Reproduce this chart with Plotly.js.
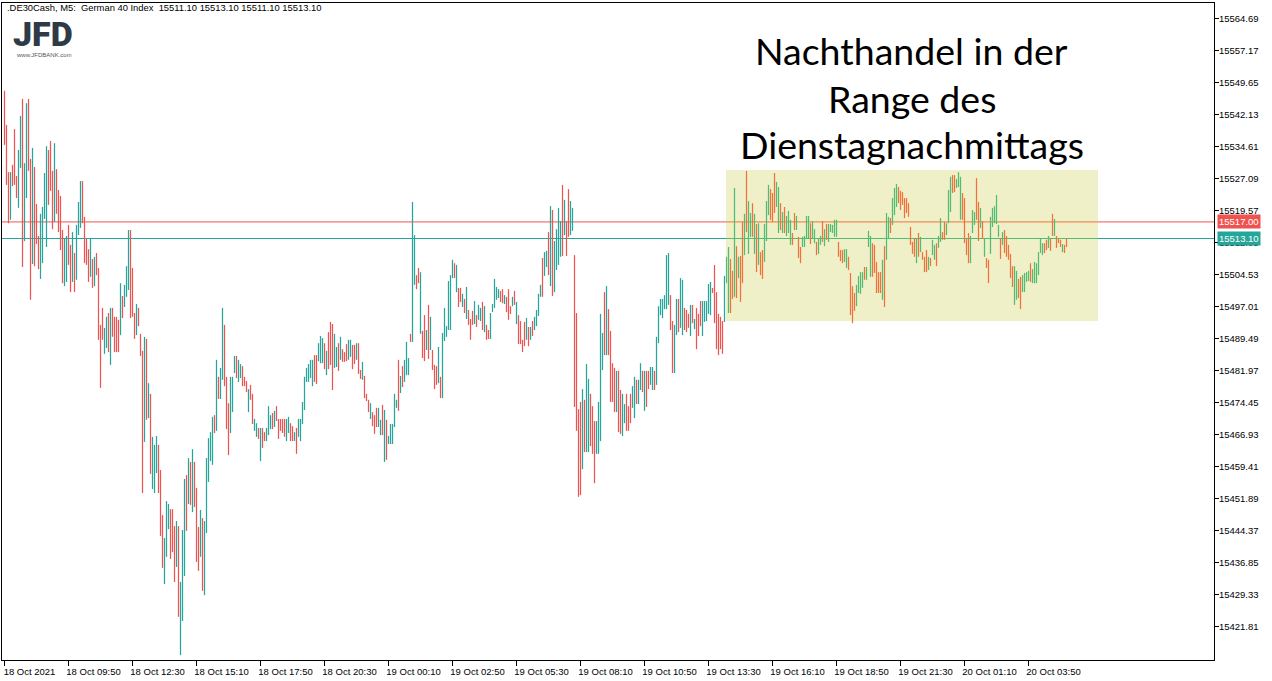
<!DOCTYPE html>
<html>
<head>
<meta charset="utf-8">
<script src="https://cdn.plot.ly/plotly-3.0.1.min.js"></script>
<style>
  html, body { margin: 0; padding: 0; background: #ffffff; }
  #chart { width: 1272px; height: 681px; }
</style>
</head>
<body>
<div id="chart"></div>
<script>
// ---- data: 5-minute bars of German 40 Index ----
const high = [
15547.8,15539.8,15528.7,15528.7,15530.4,15538.8,15527.8,15533.9,15541.9,15545.9,
15530.8,15544.9,15545.9,15531.8,15534.4,15529.9,15521.2,15513.7,15518.9,15520.5,
15528.5,15534.8,15533.9,15536.0,15529.0,15535.5,15529.4,15524.5,15523.1,15515.1,
15513.0,15513.7,15516.3,15511.6,15514.6,15509.7,15516.3,15521.7,15526.6,15526.6,
15518.2,15513.0,15510.6,15513.2,15508.3,15508.8,15509.7,15506.2,15492.8,15496.8,
15492.1,15494.7,15495.6,15496.8,15496.8,15494.7,15494.7,15494.0,15502.6,15499.6,
15502.2,15506.6,15515.1,15515.1,15506.2,15495.6,15497.7,15496.8,15490.7,15486.7,
15490.0,15489.5,15479.1,15476.6,15466.5,15464.6,15466.7,15464.6,15458.7,15448.1,
15442.7,15451.4,15450.7,15449.5,15449.5,15445.5,15446.7,15445.5,15432.4,15444.6,
15456.6,15457.5,15461.5,15460.6,15463.6,15460.6,15454.5,15445.3,15449.3,15447.4,
15446.7,15461.5,15466.2,15467.6,15471.2,15471.6,15484.6,15480.6,15482.7,15496.8,
15492.8,15480.6,15474.4,15480.6,15480.6,15485.5,15485.5,15484.6,15483.6,15483.1,
15480.6,15479.6,15477.7,15478.7,15476.6,15470.7,15469.7,15468.6,15468.6,15468.6,
15467.6,15468.6,15473.7,15471.6,15472.1,15472.6,15473.7,15470.7,15470.7,15470.7,
15470.7,15470.7,15471.2,15469.7,15469.0,15467.6,15468.6,15470.7,15470.7,15474.7,
15480.6,15482.7,15483.6,15484.6,15484.6,15485.7,15485.7,15488.5,15490.2,15489.7,
15488.5,15486.7,15491.1,15493.5,15493.0,15490.7,15487.6,15488.5,15490.0,15487.1,
15486.4,15488.3,15489.3,15489.3,15488.1,15488.1,15488.5,15488.5,15482.2,15484.1,
15480.8,15476.6,15475.2,15474.4,15472.3,15471.6,15473.3,15473.3,15470.5,15474.0,
15472.8,15470.5,15466.7,15469.5,15469.5,15476.6,15475.2,15484.6,15480.8,15483.1,
15484.6,15488.8,15485.0,15490.7,15521.7,15513.9,15504.5,15506.2,15505.2,15491.4,
15495.1,15491.6,15497.5,15494.7,15486.9,15483.4,15483.1,15487.6,15480.6,15490.9,
15496.8,15492.5,15503.1,15504.5,15508.1,15507.3,15506.9,15501.5,15501.5,15500.1,
15498.9,15501.7,15496.3,15494.2,15496.1,15498.4,15495.1,15497.5,15496.8,15498.2,
15497.2,15492.8,15491.6,15495.6,15497.7,15503.6,15501.7,15501.2,15500.8,15501.2,
15499.8,15499.4,15501.2,15497.2,15499.4,15500.8,15498.2,15495.1,15493.7,15489.3,
15493.5,15494.4,15492.3,15492.3,15493.7,15494.7,15496.3,15500.1,15502.2,15508.5,
15509.9,15510.2,15514.6,15520.7,15519.8,15512.5,15515.3,15520.3,15517.2,15525.7,
15522.2,15517.2,15524.7,15521.9,15520.3,15509.2,15495.6,15473.0,15474.7,15477.7,
15475.2,15483.6,15480.1,15476.6,15473.7,15470.2,15470.2,15474.7,15495.4,15490.9,
15500.5,15501.9,15496.5,15491.4,15483.8,15482.7,15482.0,15482.0,15477.5,15476.6,
15474.2,15476.6,15473.7,15476.6,15478.4,15480.6,15479.9,15479.9,15483.8,15482.0,
15482.0,15482.0,15482.0,15482.9,15482.9,15482.0,15490.0,15497.2,15498.9,15498.9,
15499.8,15509.2,15509.7,15499.8,15493.7,15492.8,15498.9,15498.9,15503.8,15503.4,
15496.8,15496.3,15495.4,15497.5,15497.5,15494.2,15496.8,15495.4,15498.4,15498.4,
15498.4,15498.4,15502.4,15502.9,15501.5,15506.9,15500.5,15495.4,15494.7,15493.7,
15504.3,15508.8,15511.1,15508.3,15505.5,15525.0,15511.3,15508.8,15509.0,15517.0,
15518.9,15529.0,15521.9,15519.1,15521.4,15518.9,15516.5,15516.7,15509.9,15510.4,
15516.5,15521.9,15525.7,15524.7,15523.8,15528.5,15526.4,15525.2,15521.4,15519.3,
15520.5,15518.4,15519.6,15517.5,15514.4,15519.1,15518.4,15513.5,15511.1,15513.5,
15513.7,15518.4,15518.4,15516.7,15517.2,15515.3,15512.3,15513.2,15513.7,15517.2,
15515.3,15516.5,15516.5,15516.5,15516.3,15517.5,15517.5,15512.3,15510.4,15510.4,
15510.6,15510.6,15508.8,15505.0,15501.9,15500.3,15502.2,15504.3,15505.2,15505.2,
15506.4,15506.4,15514.9,15513.7,15512.0,15511.6,15507.6,15505.2,15505.2,15508.1,
15511.3,15519.1,15518.2,15517.9,15522.6,15525.0,15525.9,15525.2,15524.3,15524.0,
15522.6,15522.6,15521.4,15515.8,15512.3,15513.2,15513.2,15514.4,15513.5,15509.9,
15508.8,15510.4,15508.8,15508.5,15512.8,15511.6,15512.0,15513.7,15517.9,15514.6,
15517.0,15516.7,15524.5,15527.6,15528.0,15528.0,15527.1,15528.7,15527.6,15523.8,
15522.6,15513.0,15514.4,15513.7,15519.8,15519.3,15527.3,15521.7,15520.3,15517.2,
15513.0,15508.5,15508.1,15518.2,15520.3,15520.7,15523.3,15516.3,15513.2,15514.6,
15515.1,15513.7,15511.6,15509.5,15506.6,15506.6,15505.5,15503.6,15504.1,15504.5,
15505.0,15505.2,15505.5,15507.3,15505.9,15507.6,15507.3,15509.9,15513.0,15512.0,
15512.0,15512.8,15513.7,15513.0,15518.9,15517.7,15513.7,15513.0,15512.8,15511.8,
15511.6,15513.1
];
const low = [
15535.1,15525.7,15516.7,15517.5,15525.4,15525.7,15522.6,15520.3,15529.7,15506.4,
15512.5,15522.6,15529.0,15498.7,15507.1,15506.6,15511.8,15505.9,15503.6,15507.3,
15517.7,15511.1,15521.0,15524.3,15515.3,15517.0,15518.9,15514.6,15510.4,15502.6,
15501.9,15502.9,15506.9,15500.5,15502.9,15500.5,15503.4,15513.9,15515.6,15516.7,
15507.3,15506.9,15502.9,15504.1,15501.5,15501.9,15504.5,15489.3,15478.0,15489.3,
15486.0,15487.4,15486.4,15483.4,15490.0,15486.4,15486.4,15486.4,15490.4,15494.4,
15497.0,15499.4,15501.0,15494.4,15494.7,15489.5,15490.4,15492.5,15485.5,15453.3,
15465.3,15470.5,15470.9,15457.8,15454.2,15453.3,15458.0,15453.3,15443.2,15435.7,
15431.9,15438.3,15444.8,15437.8,15439.4,15432.4,15435.9,15424.2,15415.2,15423.2,
15433.8,15444.4,15450.7,15450.5,15448.8,15450.0,15437.1,15435.0,15438.3,15430.3,
15429.3,15443.9,15455.9,15460.8,15459.9,15467.4,15467.9,15475.4,15475.4,15479.9,
15478.4,15468.3,15462.2,15467.4,15472.3,15481.5,15480.3,15479.4,15480.3,15478.4,
15478.4,15477.0,15472.3,15475.2,15469.5,15467.9,15466.5,15466.0,15460.8,15463.9,
15465.5,15465.5,15466.9,15468.3,15468.3,15468.8,15470.2,15466.0,15467.9,15467.4,
15466.5,15465.5,15467.4,15465.5,15465.5,15465.5,15462.5,15466.5,15465.5,15469.5,
15472.8,15479.4,15479.4,15480.3,15478.4,15479.4,15478.9,15484.3,15483.8,15483.8,
15482.4,15481.0,15482.4,15483.4,15477.5,15482.7,15482.9,15482.0,15484.6,15484.1,
15484.1,15484.3,15484.6,15485.3,15482.4,15483.6,15484.6,15481.3,15480.1,15479.9,
15475.6,15474.9,15472.3,15470.7,15469.0,15467.2,15468.8,15468.8,15466.9,15466.9,
15460.6,15461.1,15464.8,15464.8,15464.8,15468.8,15473.3,15472.6,15476.8,15478.2,
15479.4,15481.0,15481.0,15488.8,15488.8,15502.2,15501.2,15502.6,15490.7,15485.0,
15484.3,15486.9,15484.8,15486.9,15482.2,15477.7,15478.7,15479.1,15475.6,15475.6,
15489.0,15490.0,15491.6,15491.6,15503.8,15503.8,15500.5,15497.0,15498.2,15497.0,
15495.6,15494.2,15492.8,15489.3,15492.8,15493.0,15492.3,15494.0,15493.7,15491.6,
15491.1,15489.3,15489.5,15489.5,15495.8,15496.8,15498.7,15499.1,15498.2,15497.9,
15497.7,15495.8,15494.0,15495.4,15497.2,15497.5,15493.0,15488.3,15488.3,15486.4,
15487.8,15489.3,15487.8,15489.3,15490.2,15491.6,15492.5,15494.9,15499.4,15499.4,
15504.3,15506.4,15504.5,15501.9,15499.6,15500.5,15505.7,15506.9,15508.8,15509.0,
15513.9,15509.0,15513.5,15513.9,15514.9,15473.5,15467.9,15452.4,15452.8,15458.9,
15462.9,15462.9,15462.9,15464.3,15462.5,15455.6,15462.5,15462.5,15465.5,15482.2,
15485.7,15485.7,15485.7,15474.7,15474.7,15472.3,15472.3,15467.6,15467.2,15466.7,
15469.7,15467.9,15467.9,15469.7,15473.3,15470.9,15474.2,15474.2,15477.5,15477.0,
15472.6,15473.5,15477.7,15478.7,15477.5,15477.5,15478.7,15488.5,15495.1,15494.4,
15496.5,15496.5,15497.5,15491.6,15481.5,15481.5,15490.4,15491.1,15492.1,15490.4,
15491.6,15491.1,15492.1,15490.2,15493.2,15491.8,15487.1,15490.2,15492.5,15490.2,
15493.5,15493.7,15495.4,15495.1,15500.3,15493.2,15487.1,15485.7,15487.1,15486.0,
15493.5,15502.6,15495.6,15495.6,15498.9,15499.4,15499.1,15503.8,15498.2,15502.6,
15509.2,15514.6,15509.5,15513.5,15513.5,15509.5,15505.2,15506.9,15504.5,15503.6,
15507.6,15512.5,15518.6,15517.5,15517.0,15519.1,15520.5,15514.4,15515.1,15514.4,
15514.4,15513.7,15514.4,15511.6,15511.6,15515.1,15515.1,15508.5,15507.3,15511.1,
15511.1,15513.2,15513.2,15511.8,15513.2,15512.0,15509.2,15509.5,15511.6,15512.3,
15511.3,15512.8,15512.3,15514.6,15514.4,15513.5,15513.5,15508.8,15507.8,15507.3,
15507.6,15506.2,15505.7,15495.1,15493.2,15496.1,15497.2,15500.3,15500.1,15501.5,
15503.4,15503.4,15511.1,15504.1,15504.1,15505.0,15500.3,15500.3,15500.3,15498.7,
15497.0,15508.1,15513.2,15514.4,15516.3,15518.6,15520.5,15521.4,15519.8,15521.0,
15517.9,15519.1,15518.2,15511.6,15509.5,15508.8,15507.3,15508.8,15509.9,15508.1,
15505.2,15505.2,15505.7,15506.6,15509.2,15508.1,15506.6,15510.9,15512.3,15512.8,
15512.8,15513.9,15516.7,15519.3,15523.8,15524.0,15525.0,15525.2,15517.5,15517.5,
15512.0,15509.2,15507.3,15507.3,15514.4,15516.3,15517.5,15512.5,15515.6,15513.0,
15508.8,15506.2,15502.6,15509.5,15515.8,15516.7,15516.5,15513.5,15508.3,15511.6,
15509.7,15508.8,15508.1,15503.8,15501.7,15497.5,15498.7,15499.1,15496.5,15500.5,
15500.5,15502.9,15503.1,15502.9,15502.6,15502.6,15502.6,15504.5,15509.7,15509.2,
15509.7,15510.4,15510.9,15510.2,15513.7,15513.7,15510.9,15512.0,15511.1,15509.9,
15509.7,15511.1
];
// bar direction: u = rising bar, d = falling bar
const dir = (
"ddduddduud uudduddduu uudddudddd uudduduuud dddududddd uududdddud uuuddduddd ududuuuddd uuuddduduu udududddud " +
"uuuuududuu ddduuuduud ddudduudud duuududdddd uudduduuuu uuuudduuud uddduududd duudduddud dduddduudu duuuuududu " +
"uuduuddudd ududdduduu uuuududdud uddduduudu dduuuuuddu dddududddd ududuuuudu ududuuuudu dduuddddud uuddduuuud " +
"uddddudduu ddduuduudu dduuduuuuu uudduuduud ddududdduu uuuddddddu uuddududdu duudududdu uuddduudud uuudduddu u " +
"uuduuduudu duuuuudddu udddduuuud uuudddddud uuduuudddd dddddududd duduuduudd uuudduuudd dduuuddudu dduuuuudud " +
"dddduudduu uuduuuuuud duddudddud du").replace(/ /g, "");

// time axis labels (every 32 bars)
const tickIdx = [0, 32, 64, 96, 128, 160, 192, 224, 256, 288, 320, 352, 384, 416, 448, 480, 512];
const tickText = ["18 Oct 2021", "18 Oct 09:50", "18 Oct 12:30", "18 Oct 15:10", "18 Oct 17:50",
  "18 Oct 20:30", "19 Oct 00:10", "19 Oct 02:50", "19 Oct 05:30", "19 Oct 08:10", "19 Oct 10:50",
  "19 Oct 13:30", "19 Oct 16:10", "19 Oct 18:50", "19 Oct 21:30", "20 Oct 01:10", "20 Oct 03:50"];
// price axis labels
const priceTicks = [15421.81, 15429.33, 15436.85, 15444.37, 15451.89, 15459.41, 15466.93, 15474.45,
  15481.97, 15489.49, 15497.01, 15504.53, 15512.05, 15519.57, 15527.09, 15534.61, 15542.13,
  15549.65, 15557.17, 15564.69];
// horizontal levels
const levelLine = 15517.00;
const bidLine = 15513.10;
// highlighted zone (bars and price band)
const zoneBars = [361, 546];
const zonePrice = [15493.7, 15529.2];
const headerText = ".DE30Cash, M5:  German 40 Index  15511.10 15513.10 15511.10 15513.10";
const noteLines = ["Nachthandel in der", "Range des", "Dienstagnachmittags"];

if (high.length !== low.length || high.length !== dir.length) {
  console.error("length mismatch", high.length, low.length, dir.length);
}

const UP = "#26A69A", DOWN = "#EF5350";
const UP_Z = "#50BC74", DOWN_Z = "#F2703C";
const AX_FONT = "'Liberation Sans', Arial, sans-serif";
const AX_SIZE = 9.5;

function part(from, to) {
  const t = { x: [], open: [], high: [], low: [], close: [] };
  for (let i = from; i < to && i < high.length; i++) {
    const up = dir[i] === "u";
    t.x.push(i);
    t.high.push(high[i]);
    t.low.push(low[i]);
    t.open.push(up ? low[i] : high[i]);
    t.close.push(up ? high[i] : low[i]);
  }
  return t;
}
function ohlcTrace(t, upC, dnC) {
  return Object.assign({
    type: "ohlc", tickwidth: 0, hoverinfo: "skip", showlegend: false,
    increasing: { line: { color: upC, width: 1.25 } },
    decreasing: { line: { color: dnC, width: 1.25 } }
  }, t);
}

const traces = [
  ohlcTrace(part(0, zoneBars[0]), UP, DOWN),
  ohlcTrace(part(zoneBars[0], high.length), UP_Z, DOWN_Z)
];

const zx0 = zoneBars[0] - 0.25, zx1 = zoneBars[1] + 0.75;

const shapes = [
  { type: "line", xref: "paper", yref: "y", x0: 0, x1: 1, y0: levelLine, y1: levelLine, line: { color: DOWN, width: 1 }, layer: "below" },
  { type: "line", xref: "paper", yref: "y", x0: 0, x1: 1, y0: bidLine, y1: bidLine, line: { color: UP, width: 1 }, layer: "below" },
  { type: "rect", xref: "x", yref: "y", x0: zx0, x1: zx1, y0: zonePrice[0], y1: zonePrice[1], fillcolor: "#F0F0C8", line: { width: 0 }, layer: "below" },
  { type: "line", xref: "x", yref: "y", x0: zx0, x1: zx1, y0: levelLine, y1: levelLine, line: { color: DOWN_Z, width: 1 }, layer: "below" },
  { type: "line", xref: "x", yref: "y", x0: zx0, x1: zx1, y0: bidLine, y1: bidLine, line: { color: UP_Z, width: 1 }, layer: "below" }
];

const annotations = [
  { xref: "paper", yref: "paper", x: 0, y: 1, xanchor: "left", yanchor: "middle", xshift: 3, yshift: -4,
    text: headerText, showarrow: false, font: { family: AX_FONT, size: 9.4, color: "#000" } },
  { xref: "paper", yref: "paper", x: 0, y: 1, xanchor: "left", yanchor: "middle", xshift: 9, yshift: -31,
    height: 28, text: "JFD", showarrow: false,
    font: { family: "Roboto, 'Liberation Sans', sans-serif", size: 34, weight: 900, color: "#2E3A46" } },
  { xref: "paper", yref: "paper", x: 0, y: 1, xanchor: "left", yanchor: "middle", xshift: 12, yshift: -52,
    height: 8, text: "www.JFDBANK.com", showarrow: false, font: { family: AX_FONT, size: 6, color: "#555" } },
  { xref: "paper", yref: "y", x: 1, y: levelLine, xanchor: "left", yanchor: "middle", xshift: 3,
    text: levelLine.toFixed(2), showarrow: false, bgcolor: DOWN, borderpad: 1,
    font: { family: AX_FONT, size: AX_SIZE, color: "#fff" } },
  { xref: "paper", yref: "y", x: 1, y: bidLine, xanchor: "left", yanchor: "middle", xshift: 3,
    text: bidLine.toFixed(2), showarrow: false, bgcolor: UP, borderpad: 1,
    font: { family: AX_FONT, size: AX_SIZE, color: "#fff" } }
];
const noteY = [0.927, 0.855, 0.784];
noteLines.forEach((t, k) => annotations.push({
  xref: "paper", yref: "paper", x: 0.7505, y: noteY[k], xanchor: "center", yanchor: "middle",
  text: t, showarrow: false, font: { family: "Lato, 'Noto Sans', sans-serif", size: 37.5, color: "#000" }
}));

const layout = {
  width: 1272, height: 681,
  margin: { l: 2, r: 58, t: 3, b: 21, pad: 0 },
  paper_bgcolor: "#ffffff", plot_bgcolor: "#ffffff",
  showlegend: false, dragmode: false, hovermode: false,
  xaxis: {
    type: "linear", range: [-1.25, 604.75], rangeslider: { visible: false },
    showgrid: false, zeroline: false, showline: true, linecolor: "#000", linewidth: 1, mirror: true,
    ticks: "outside", ticklen: 5, tickcolor: "#000", tickwidth: 1,
    tickmode: "array", tickvals: tickIdx, ticktext: tickText, ticklabelshift: 25, ticklabelstandoff: -2,
    tickfont: { family: AX_FONT, size: AX_SIZE, color: "#000" }, fixedrange: true
  },
  yaxis: {
    side: "right", range: [15414.05, 15568.445],
    showgrid: false, zeroline: false, showline: true, linecolor: "#000", linewidth: 1, mirror: true,
    ticks: "outside", ticklen: 4, tickcolor: "#000", tickwidth: 1, ticklabelstandoff: -2,
    tickmode: "array", tickvals: priceTicks, ticktext: priceTicks.map(v => v.toFixed(2)),
    tickfont: { family: AX_FONT, size: AX_SIZE, color: "#000" }, fixedrange: true
  },
  shapes: shapes,
  annotations: annotations
};

Plotly.newPlot("chart", traces, layout, { displayModeBar: false, staticPlot: true });
</script>
</body>
</html>
